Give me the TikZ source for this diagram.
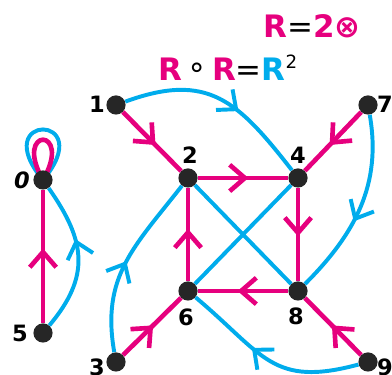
\documentclass[tikz,border=0pt]{standalone}
\usepackage{fontspec}
\setmainfont{DejaVu Sans}
\definecolor{relpink}{RGB}{230, 0, 126}
\definecolor{relblue}{RGB}{0, 172, 236}
\usetikzlibrary{
    arrows.meta,
    decorations.markings,
    backgrounds
}
\tikzset{
    vertex/.style={circle, fill=black!85, inner sep=0pt, minimum size=4.8mm},
    num/.style={font=\fontsize{16}{18}\selectfont\bfseries, inner sep=0pt},
    pinkedge/.style={draw=relpink, line width=3.3pt},
    blueedge/.style={draw=relblue, line width=2.8pt},
    midarrow/.style={postaction={decorate}, decoration={markings,
        mark=at position #1 with {\arrow{Straight Barb[length=3.8mm, width=6.6mm]}}}},
    midarrow/.default=0.56
}

\begin{document}
\begin{tikzpicture}[x=0.25mm, y=0.25mm]
    \clip (0,0) rectangle (392,375);
    \useasboundingbox (0,0) rectangle (392,375);

    % vertices
    \foreach \name/\x/\y in {0/43/195, 5/43/42, 1/116/270, 2/188/197, 4/298/197,
                             7/368/270, 6/188/84, 8/298/84, 3/116/13, 9/368/13} {
        \node[vertex] (n\name) at (\x,\y) {};
    }

    % vertex numbers
    \node[num] (l0) at (22,195) {\itshape 0};
    \node[num] (l5) at (20,42) {5};
    \node[num] (l1) at (97,271) {1};
    \node[num] (l2) at (190,220) {2};
    \node[num] (l4) at (298,220) {4};
    \node[num] (l7) at (385,271) {7};
    \node[num] (l6) at (186,58) {6};
    \node[num] (l8) at (296,59) {8};
    \node[num] (l3) at (97,8) {3};
    \node[num] (l9) at (385,8) {9};

    % formulas
    \node[font=\fontsize{22}{24}\selectfont, anchor=base] (rel) at (312,337)
        {\textcolor{relpink}{\bfseries R}=\textcolor{relpink}{\bfseries 2⊗}};
    \node[font=\fontsize{22}{24}\selectfont, anchor=base] (comp) at (228,294)
        {\textcolor{relpink}{\bfseries R}\,\raisebox{0.1em}{∘}\,\textcolor{relpink}{\bfseries R}=\textcolor{relblue}{\bfseries R}\raisebox{0.42em}{\fontsize{13}{13}\selectfont 2}};

    \begin{scope}[on background layer]
        % R^2 (blue)
        \draw[blueedge] (n0.center) .. controls +(130:88) and +(50:88) .. (n0.center);
        \draw[blueedge, midarrow=0.62] (n5) to[out=50, in=-55, looseness=1.2] (n0);
        \draw[blueedge, midarrow=0.6] (n1) to[out=20, in=128, looseness=1.25] (n4);
        \draw[blueedge, midarrow=0.58] (n7) to[out=-80, in=45] (n8);
        \draw[blueedge, midarrow=0.6] (n9) to[out=195, in=-40, looseness=1.3] (n6);
        \draw[blueedge, midarrow=0.5] (n3) to[out=100, in=-128, looseness=1.1] (n2);
        \draw[blueedge] (n2) -- (n8);
        \draw[blueedge] (n4) -- (n6);

        % R (pink)
        \draw[pinkedge] (n0.center) .. controls +(120:62) and +(60:62) .. (n0.center);
        \draw[pinkedge, midarrow] (n5) -- (n0);
        \draw[pinkedge, midarrow] (n1) -- (n2);
        \draw[pinkedge, midarrow] (n2) -- (n4);
        \draw[pinkedge, midarrow] (n7) -- (n4);
        \draw[pinkedge, midarrow=0.52] (n4) -- (n8);
        \draw[pinkedge, midarrow] (n8) -- (n6);
        \draw[pinkedge, midarrow] (n6) -- (n2);
        \draw[pinkedge, midarrow=0.52] (n3) -- (n6);
        \draw[pinkedge, midarrow=0.52] (n9) -- (n8);
    \end{scope}
\end{tikzpicture}
\end{document}
